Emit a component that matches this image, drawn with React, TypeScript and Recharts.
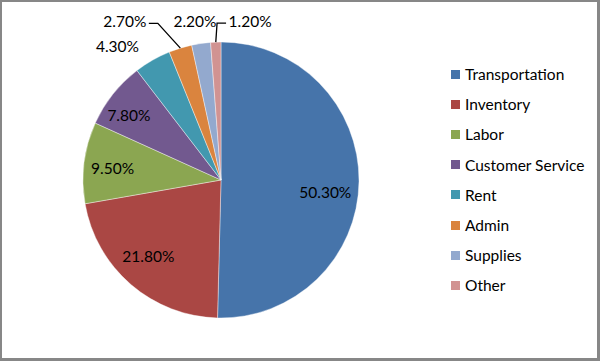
import React from 'react';
import { PieChart, Pie, Cell, Legend } from 'recharts';

const categories = ['Transportation', 'Inventory', 'Labor', 'Customer Service', 'Rent', 'Admin', 'Supplies', 'Other'];
const shares = [50.3, 21.8, 9.5, 7.8, 4.3, 2.7, 2.2, 1.2];
const labels = ['50.30%', '21.80%', '9.50%', '7.80%', '4.30%', '2.70%', '2.20%', '1.20%'];
const colors = ['#4674AA', '#AA4744', '#8BA651', '#72598F', '#4298AF', '#DA843E', '#93A9CE', '#D19392'];

const data = categories.map((name, i) => ({ name, value: shares[i], label: labels[i] }));

// label placement: radius in px from centre, angle offset from slice mid angle, leader line
const labelLayout = [
  { r: 105, da: -6, leader: false },
  { r: 105, da: -3, leader: false },
  { r: 109, da: 1, leader: false },
  { r: 113, da: 3, leader: false },
  { r: 169, da: 8, leader: false },
  { r: 186, da: 14, leader: true },
  { r: 161, da: 1, leader: false },
  { r: 162, da: -12.5, leader: true },
];

const FONT = 'Lato, "Open Sans", sans-serif';
const RAD = Math.PI / 180;

const renderLabel = (props: any) => {
  const { cx, cy, midAngle, outerRadius, index } = props;
  const lay = labelLayout[index];
  const a = (midAngle + lay.da) * RAD;
  const lx = cx + lay.r * Math.cos(a);
  const ly = cy - lay.r * Math.sin(a);
  let line = null;
  if (lay.leader) {
    const ex = cx + outerRadius * Math.cos(midAngle * RAD);
    const ey = cy - outerRadius * Math.sin(midAngle * RAD);
    const side = lx < ex ? 1 : -1;
    const endX = lx + side * 24;
    const elbowX = endX + side * 9;
    const lineY = ly + 2.5;
    line = (
      <polyline
        points={`${ex},${ey} ${elbowX},${lineY} ${endX},${lineY}`}
        fill="none"
        stroke="#000"
        strokeWidth={1.3}
      />
    );
  }
  return (
    <g key={`lbl-${index}`}>
      {line}
      <text
        x={lx}
        y={ly}
        textAnchor="middle"
        dominantBaseline="central"
        fontFamily={FONT}
        fontSize={15.5}
        fill="#000"
      >
        {props.payload.label}
      </text>
    </g>
  );
};

const renderLegend = (props: any) => {
  const payload = [...(props.payload || [])].sort(
    (a: any, b: any) => categories.indexOf(a.value) - categories.indexOf(b.value)
  );
  return (
    <div style={{ fontFamily: FONT, fontSize: 15.5, color: '#000' }}>
      {payload.map((entry: any, i: number) => (
        <div key={i} style={{ display: 'flex', alignItems: 'center', height: 30.2 }}>
          <span
            style={{
              display: 'inline-block',
              width: 9,
              height: 9,
              background: entry.color,
              marginRight: 5,
            }}
          />
          <span>{entry.value}</span>
        </div>
      ))}
    </div>
  );
};

export default function App() {
  return (
    <div style={{ position: 'absolute', left: 0, top: 0, width: 600, height: 361, background: '#fff' }}>
      <PieChart
        width={600}
        height={361}
        margin={{ top: 0, right: 0, bottom: 0, left: 0 }}
        style={{ position: 'absolute', left: 0, top: 0 }}
      >
        <Pie
          data={data}
          dataKey="value"
          nameKey="name"
          cx={221}
          cy={180}
          outerRadius={138}
          startAngle={90}
          endAngle={-270}
          stroke="#ffffff"
          strokeWidth={0.4}
          label={renderLabel}
          labelLine={false}
          isAnimationActive={false}
        >
          {data.map((d, i) => (
            <Cell key={d.name} fill={colors[i]} />
          ))}
        </Pie>
        <Legend
          layout="vertical"
          align="right"
          verticalAlign="top"
          content={renderLegend}
          wrapperStyle={{ left: 451, top: 59, width: 145 }}
        />
      </PieChart>
      <div
        style={{
          position: 'absolute',
          left: 0,
          top: 0,
          width: 600,
          height: 361,
          boxSizing: 'border-box',
          borderStyle: 'solid',
          borderColor: '#878787',
          borderWidth: '2px 3px 3px 2px',
          pointerEvents: 'none',
        }}
      />
    </div>
  );
}
